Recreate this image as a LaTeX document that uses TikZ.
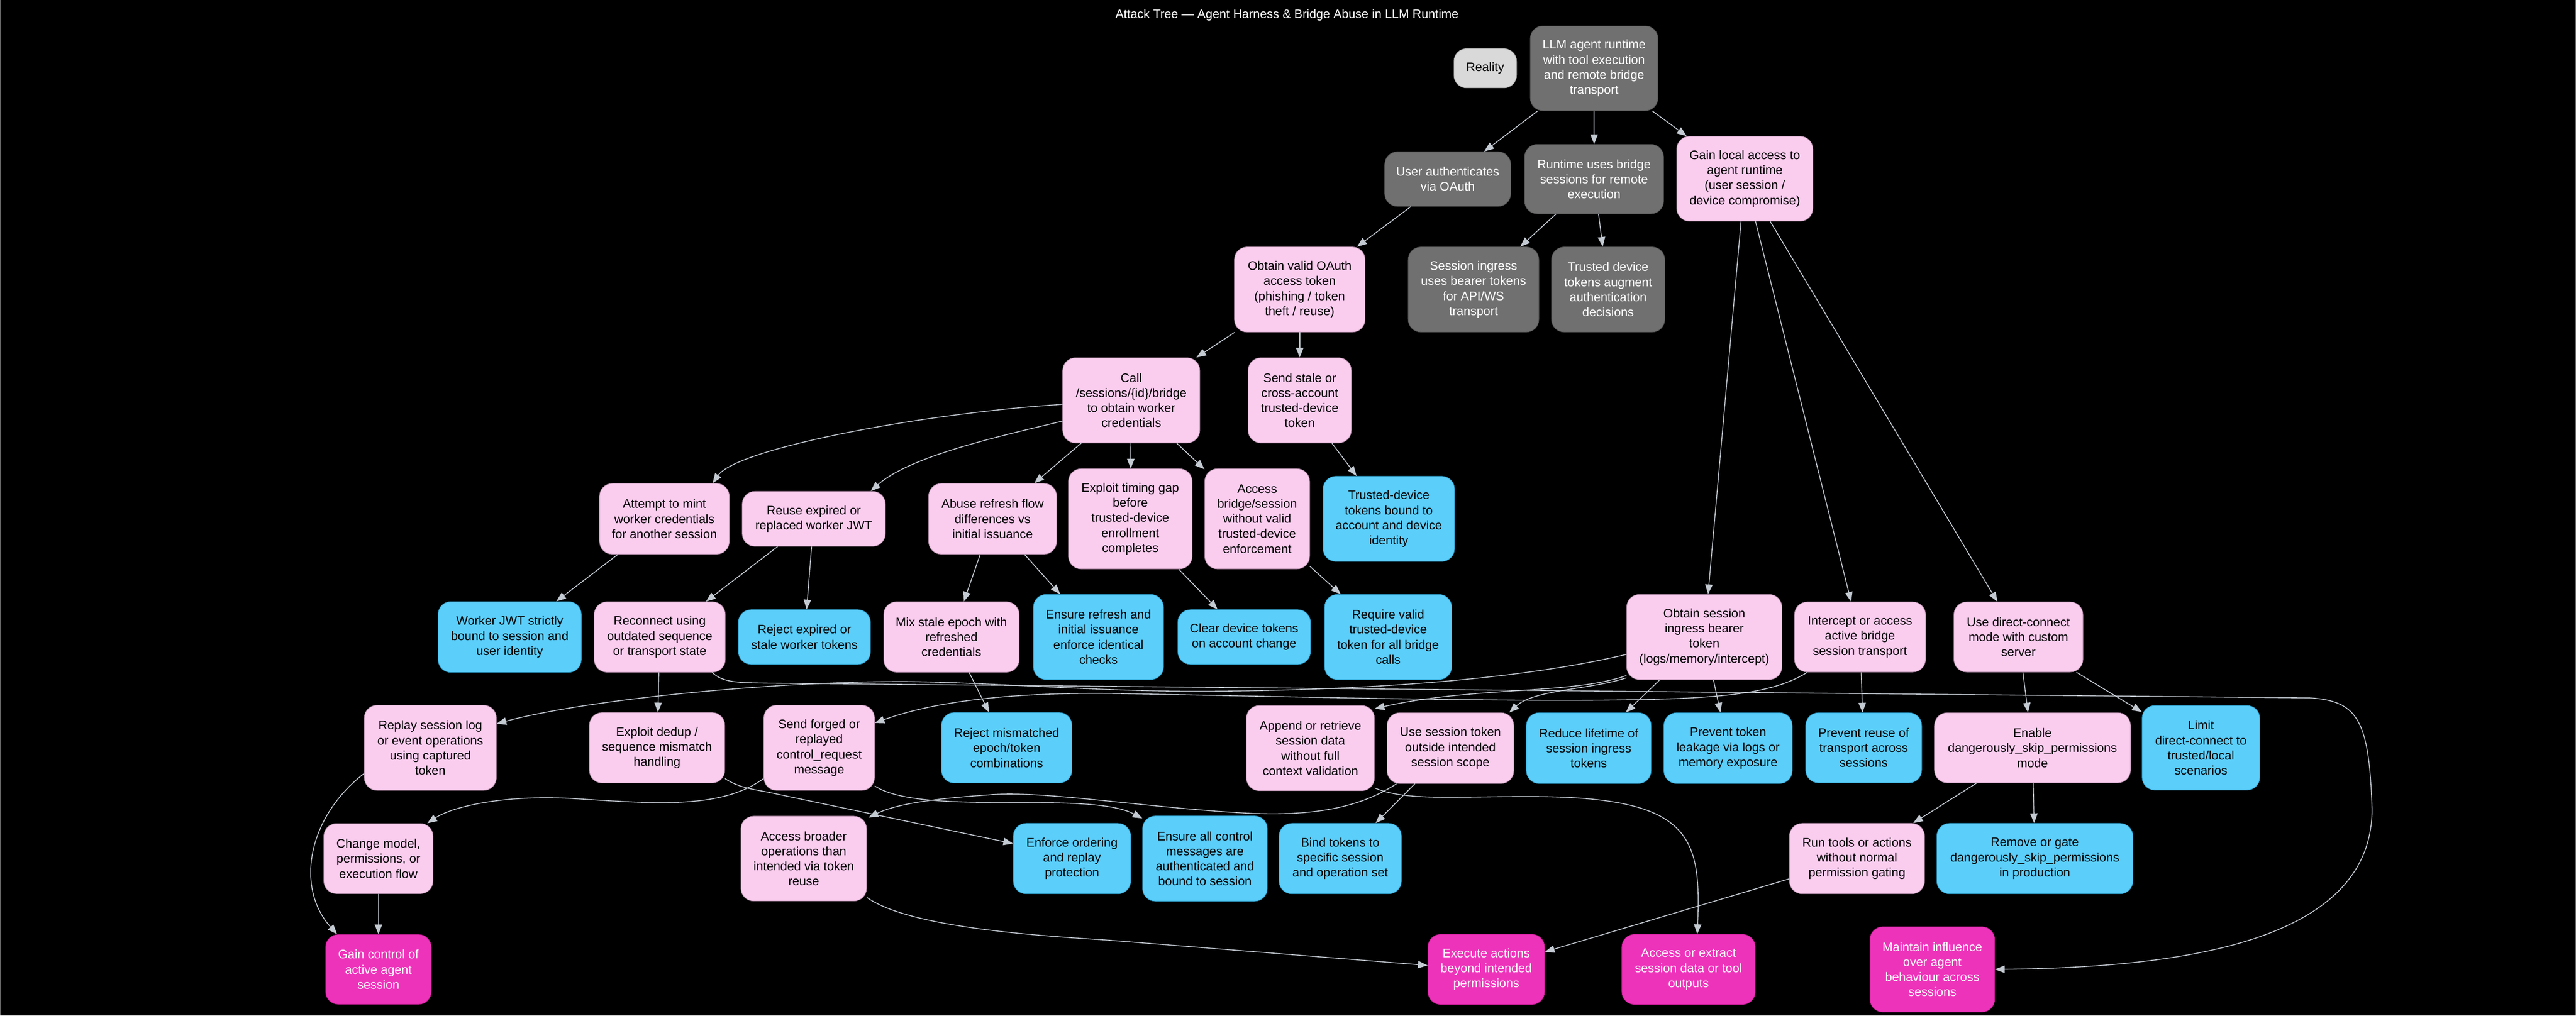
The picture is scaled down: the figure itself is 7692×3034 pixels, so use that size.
\documentclass[tikz,border=0pt]{standalone}
\usepackage{fontspec}
\setmainfont{Liberation Sans}
\usetikzlibrary{arrows.meta,calc}
\definecolor{pinkfill}{RGB}{250,205,239}
\definecolor{pinkline}{RGB}{190,150,180}
\definecolor{bluefill}{RGB}{91,206,250}
\definecolor{blueline}{RGB}{50,165,210}
\definecolor{greyfill}{RGB}{112,112,112}
\definecolor{greyline}{RGB}{85,85,85}
\definecolor{realfill}{RGB}{217,217,217}
\definecolor{magfill}{RGB}{238,51,187}
\definecolor{magline}{RGB}{200,30,150}
\definecolor{edgecol}{RGB}{196,202,210}
\definecolor{framecol}{RGB}{128,128,128}
\begin{document}
\begin{tikzpicture}[x=0.01cm, y=-0.01cm,
  nbox/.style={rounded corners=0.38cm, line width=0.5pt, align=center, inner sep=0pt, font=\fontsize{10.5}{12.8}\selectfont},
  pinkbox/.style={nbox, fill=pinkfill, draw=pinkline, text=black},
  bluebox/.style={nbox, fill=bluefill, draw=blueline, text=black},
  greybox/.style={nbox, fill=greyfill, draw=greyline, text=white},
  realbox/.style={nbox, fill=realfill, draw=realfill!80!black, text=black},
  magbox/.style={nbox, fill=magfill, draw=magline, text=white},
  bw/.style={minimum width=#1cm},
  bh/.style={minimum height=#1cm},
  conn/.style={draw=edgecol, line width=0.7pt, -{Triangle[length=2.9mm,width=2.2mm]}}]
\fill[black] (0,0) rectangle (7692,3034);
\useasboundingbox (0,0) rectangle (7692,3034);
\draw[framecol, line width=0.02cm] (1,0) -- (1,3034);
\draw[framecol, line width=0.02cm] (7691,0) -- (7691,3034);

\node[font=\fontsize{10.5}{12.8}\selectfont, text=white, inner sep=0pt] (title) at (3843,45) {Attack Tree — Agent Harness \& Bridge Abuse in LLM Runtime};

% row 0
\node[realbox, bw=1.87, bh=1.17] (reality) at (4435,204) {Reality};
\node[greybox, bw=3.81, bh=2.53] (root) at (4760,204) {LLM agent runtime\\with tool execution\\and remote bridge\\transport};
% row 1
\node[greybox, bw=3.76, bh=1.63] (userauth) at (4323,535) {User authenticates\\via OAuth};
\node[greybox, bw=4.15, bh=2.07] (runtime) at (4760,535) {Runtime uses bridge\\sessions for remote\\execution};
\node[pinkbox, bw=4.06, bh=2.53] (gainlocal) at (5210,534) {Gain local access to\\agent runtime\\(user session /\\device compromise)};
% row 2
\node[pinkbox, bw=3.90, bh=2.54] (oauth) at (3881,865) {Obtain valid OAuth\\access token\\(phishing / token\\theft / reuse)};
\node[greybox, bw=3.90, bh=2.54] (ingress) at (4400,865) {Session ingress\\uses bearer tokens\\for API/WS\\transport};
\node[greybox, bw=3.38, bh=2.54] (trustaug) at (4802,865) {Trusted device\\tokens augment\\authentication\\decisions};
% row 3
\node[pinkbox, bw=4.09, bh=2.54] (call) at (3378,1196) {Call\\/sessions/\{id\}/bridge\\to obtain worker\\credentials};
\node[pinkbox, bw=3.08, bh=2.54] (sendstale) at (3881,1196) {Send stale or\\cross-account\\trusted-device\\token};
% row 4
\node[pinkbox, bw=3.87, bh=2.11] (mint) at (1984,1550) {Attempt to mint\\worker credentials\\for another session};
\node[pinkbox, bw=4.27, bh=1.64] (reuse) at (2430,1550) {Reuse expired or\\replaced worker JWT};
\node[pinkbox, bw=3.82, bh=2.11] (abuse) at (2964,1550) {Abuse refresh flow\\differences vs\\initial issuance};
\node[pinkbox, bw=3.69, bh=2.99] (timing) at (3375,1550) {Exploit timing gap\\before\\trusted-device\\enrollment\\completes};
\node[pinkbox, bw=3.13, bh=2.99] (accessbridge) at (3754,1550) {Access\\bridge/session\\without valid\\trusted-device\\enforcement};
\node[bluebox, bw=3.92, bh=2.54] (tdbound) at (4147,1550) {Trusted-device\\tokens bound to\\account and device\\identity};
% row 5
\node[bluebox, bw=4.27, bh=2.11] (workerjwt) at (1522,1903) {Worker JWT strictly\\bound to session and\\user identity};
\node[pinkbox, bw=3.91, bh=2.10] (reconnect) at (1970,1903) {Reconnect using\\outdated sequence\\or transport state};
\node[bluebox, bw=3.94, bh=1.63] (rejectexp) at (2402,1903) {Reject expired or\\stale worker tokens};
\node[pinkbox, bw=4.04, bh=2.10] (mixstale) at (2841,1903) {Mix stale epoch with\\refreshed\\credentials};
\node[bluebox, bw=3.88, bh=2.54] (ensurerefresh) at (3280,1903) {Ensure refresh and\\initial issuance\\enforce identical\\checks};
\node[bluebox, bw=3.96, bh=1.63] (cleardev) at (3715,1903) {Clear device tokens\\on account change};
\node[bluebox, bw=3.79, bh=2.54] (requirevalid) at (4145,1903) {Require valid\\trusted-device\\token for all bridge\\calls};
\node[pinkbox, bw=4.63, bh=2.54] (obtainingress) at (5089,1903) {Obtain session\\ingress bearer\\token\\(logs/memory/intercept)};
\node[pinkbox, bw=3.91, bh=2.09] (intercept) at (5554,1903) {Intercept or access\\active bridge\\session transport};
\node[pinkbox, bw=3.85, bh=2.09] (direct) at (6027,1903) {Use direct-connect\\mode with custom\\server};
% row 6
\node[pinkbox, bw=3.94, bh=2.54] (replay) at (1285,2234) {Replay session log\\or event operations\\using captured\\token};
\node[pinkbox, bw=4.04, bh=2.10] (dedup) at (1962,2234) {Exploit dedup /\\sequence mismatch\\handling};
\node[pinkbox, bw=3.30, bh=2.54] (sendforged) at (2446,2234) {Send forged or\\replayed\\control\_request\\message};
\node[bluebox, bw=3.89, bh=2.10] (rejectmis) at (3006,2234) {Reject mismatched\\epoch/token\\combinations};
\node[pinkbox, bw=3.82, bh=2.54] (append) at (3913,2235) {Append or retrieve\\session data\\without full\\context validation};
\node[pinkbox, bw=3.78, bh=2.11] (usetoken) at (4331,2235) {Use session token\\outside intended\\session scope};
\node[bluebox, bw=3.72, bh=2.11] (reducelife) at (4744,2235) {Reduce lifetime of\\session ingress\\tokens};
\node[bluebox, bw=3.83, bh=2.11] (preventleak) at (5160,2235) {Prevent token\\leakage via logs or\\memory exposure};
\node[bluebox, bw=3.46, bh=2.09] (preventreuse) at (5565,2234) {Prevent reuse of\\transport across\\sessions};
\node[pinkbox, bw=5.85, bh=2.09] (enable) at (6069,2234) {Enable\\dangerously\_skip\_permissions\\mode};
\node[bluebox, bw=3.51, bh=2.52] (limit) at (6572,2234) {Limit\\direct-connect to\\trusted/local\\scenarios};
% row 7
\node[pinkbox, bw=3.26, bh=2.09] (changemodel) at (1130,2565) {Change model,\\permissions, or\\execution flow};
\node[pinkbox, bw=3.75, bh=2.53] (accessbroader) at (2400,2565) {Access broader\\operations than\\intended via token\\reuse};
\node[bluebox, bw=3.50, bh=2.10] (enforceorder) at (3201,2565) {Enforce ordering\\and replay\\protection};
\node[bluebox, bw=3.72, bh=2.54] (ensureall) at (3598,2565) {Ensure all control\\messages are\\authenticated and\\bound to session};
\node[bluebox, bw=3.65, bh=2.10] (bind) at (4002,2565) {Bind tokens to\\specific session\\and operation set};
\node[pinkbox, bw=4.03, bh=2.10] (runtools) at (5545,2565) {Run tools or actions\\without normal\\permission gating};
\node[bluebox, bw=5.85, bh=2.10] (removegate) at (6076,2565) {Remove or gate\\dangerously\_skip\_permissions\\in production};
% row 8
\node[magbox, bw=3.15, bh=2.08] (gaincontrol) at (1130,2896) {Gain control of\\active agent\\session};
\node[magbox, bw=3.48, bh=2.09] (execute) at (4438,2896) {Execute actions\\beyond intended\\permissions};
\node[magbox, bw=3.98, bh=2.09] (accessextract) at (5042,2896) {Access or extract\\session data or tool\\outputs};
\node[magbox, bw=3.72, bh=2.54] (maintain) at (5770,2896) {Maintain influence\\over agent\\behaviour across\\sessions};

% straight connectors
\draw[conn] (root) -- (userauth);
\draw[conn] (root) -- (runtime);
\draw[conn] (root) -- (gainlocal);
\draw[conn] (userauth) -- (oauth);
\draw[conn] (runtime) -- (ingress);
\draw[conn] (runtime) -- (trustaug);
\draw[conn] (oauth) -- (call);
\draw[conn] (oauth) -- (sendstale);
\draw[conn] (sendstale) -- (tdbound);
\draw[conn] (call) -- (abuse);
\draw[conn] (call) -- (timing);
\draw[conn] (call) -- (accessbridge);
\draw[conn] (mint) -- (workerjwt);
\draw[conn] (reuse) -- (reconnect);
\draw[conn] (reuse) -- (rejectexp);
\draw[conn] (abuse) -- (mixstale);
\draw[conn] (abuse) -- (ensurerefresh);
\draw[conn] (timing) -- (cleardev);
\draw[conn] (accessbridge) -- (requirevalid);
\draw[conn] (reconnect) -- (dedup);
\draw[conn] (mixstale) -- (rejectmis);
\draw[conn] (gainlocal) -- (obtainingress);
\draw[conn] (gainlocal) -- (intercept);
\draw[conn] (gainlocal) -- (direct);
\draw[conn] (obtainingress) -- (reducelife);
\draw[conn] (obtainingress) -- (preventleak);
\draw[conn] (intercept) -- (preventreuse);
\draw[conn] (direct) -- (enable);
\draw[conn] (direct) -- (limit);
\draw[conn] (enable) -- (runtools);
\draw[conn] (enable) -- (removegate);
\draw[conn] (usetoken) -- (bind);
\draw[conn] (changemodel) -- (gaincontrol);
\draw[conn] (runtools) -- (execute);

% curved connectors
\draw[conn] ($(call.west)+(0,12)$) .. controls (2750,1235) and (2200,1340) .. ($(mint.north)+(144,0)$);
\draw[conn] ($(call.west)+(0,62)$) .. controls (3000,1300) and (2720,1360) .. ($(reuse.north)+(170,0)$);
\draw[conn] ($(reconnect.south east)+(-40,0)$) .. controls (2160,2040) and (2200,2040) .. (2320,2041) -- (6900,2085) .. controls (7040,2095) and (7075,2150) .. (7083,2420) .. controls (7080,2820) and (6500,2890) .. (maintain.east);
\draw[conn] ($(obtainingress.west)+(0,52)$) .. controls (4500,2040) and (4000,2062) .. (3626,2065) .. controls (3300,2068) and (3000,2040) .. (2700,2036) .. controls (2300,2036) and (1750,2090) .. ($(replay.east)+(0,-72)$);
\draw[conn] ($(obtainingress.west)+(0,115)$) .. controls (4700,2075) and (4400,2050) .. ($(append.east)+(0,-118)$);
\draw[conn] ($(obtainingress.west)+(0,122)$) .. controls (4750,2060) and (4580,2060) .. ($(usetoken.north east)+(-14,0)$);
\draw[conn] ($(intercept.south west)+(39,0)$) .. controls (5300,2070) and (5150,2085) .. (4900,2090) .. controls (4500,2098) and (3800,2080) .. (3340,2072) .. controls (2950,2066) and (2750,2110) .. ($(sendforged.east)+(0,-74)$);
\draw[conn] ($(sendforged.west)+(0,92)$) .. controls (2150,2420) and (1950,2400) .. (1700,2385) .. controls (1500,2375) and (1350,2410) .. ($(changemodel.north east)+(-18,0)$);
\draw[conn] ($(sendforged.east)+(0,114)$) .. controls (2750,2440) and (3250,2360) .. ($(ensureall.north west)+(0,8)$);
\draw[conn] ($(usetoken.south west)+(29,0)$) .. controls (4050,2420) and (3900,2440) .. (3700,2428) .. controls (3400,2410) and (3100,2360) .. (2950,2375) .. controls (2800,2385) and (2680,2400) .. ($(accessbroader.north east)+(5,5)$);
\draw[conn] ($(append.east)+(0,119)$) .. controls (4200,2395) and (4350,2378) .. (4600,2380) .. controls (5050,2385) and (5080,2500) .. ($(accessextract.north)+(26,0)$);
\draw[conn] ($(accessbroader.east)+(0,116)$) .. controls (2700,2760) and (3000,2790) .. (3300,2808) -- ($(execute.west)+(0,-12)$);
\draw[conn] ($(replay.west)+(0,77)$) .. controls (920,2440) and (880,2650) .. ($(gaincontrol.north west)+(35,0)$);
\draw[conn] ($(dedup.east)+(0,92)$) .. controls (2200,2350) and (2240,2357) .. (2290,2366) -- ($(enforceorder.west)+(0,-45)$);
\end{tikzpicture}
\end{document}
